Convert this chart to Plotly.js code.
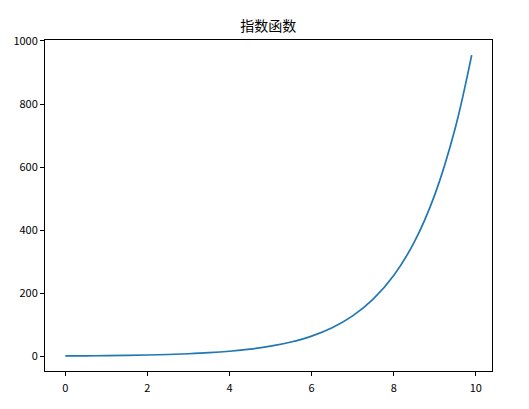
<!DOCTYPE html>
<html>
<head>
<meta charset="utf-8">
<script src="https://cdn.plot.ly/plotly-3.0.1.min.js"></script>
<style>
  html, body { margin: 0; padding: 0; background: #fff; }
  #chart { width: 529px; height: 409px; }
</style>
</head>
<body>
<div id="chart"></div>
<script>
// points
const xVals = [0, 0.5, 1, 1.5, 2, 2.5, 3, 3.5, 4, 4.5, 5, 5.5, 6, 6.5, 7, 7.5, 8, 8.5, 9, 9.5, 9.9];
const yVals = [1, 1.41, 2, 2.83, 4, 5.66, 8, 11.3, 16, 22.6, 32, 45.3, 64, 90.5, 128, 181, 256, 362, 512, 724, 955];
const xTicks = [0, 2, 4, 6, 8, 10];
const yTicks = [0, 200, 400, 600, 800, 1000];
const chartTitle = "指数函数";

const fontFam = "'Noto Sans CJK SC', 'DejaVu Sans', sans-serif";

var trace = {
  x: xVals,
  y: yVals,
  type: "scatter",
  mode: "lines",
  line: { color: "#1f77b4", width: 1.7, shape: "spline", smoothing: 1 },
  hoverinfo: "none"
};

var axisBase = {
  showgrid: false,
  zeroline: false,
  showline: true,
  linecolor: "#000",
  linewidth: 1,
  mirror: true,
  ticks: "outside",
  ticklen: 4,
  tickwidth: 1,
  tickcolor: "#000",
  tickfont: { family: fontFam, size: 11, color: "#000" }
};

var layout = {
  width: 529,
  height: 409,
  margin: { l: 45, r: 37, t: 40, b: 38 },
  paper_bgcolor: "#fff",
  plot_bgcolor: "#fff",
  showlegend: false,
  title: {
    text: chartTitle,
    font: { family: fontFam, size: 14, color: "#000" },
    x: 0.507,
    xanchor: "center",
    y: 0.936,
    yanchor: "middle"
  },
  xaxis: Object.assign({}, axisBase, {
    range: [-0.495, 10.395],
    tickvals: xTicks,
    ticktext: xTicks.map(String),
    ticklabelstandoff: 3
  }),
  yaxis: Object.assign({}, axisBase, {
    range: [-46.7, 1003.1],
    tickvals: yTicks,
    ticktext: yTicks.map(String)
  })
};

Plotly.newPlot("chart", [trace], layout, { displayModeBar: false, staticPlot: true });
</script>
</body>
</html>
